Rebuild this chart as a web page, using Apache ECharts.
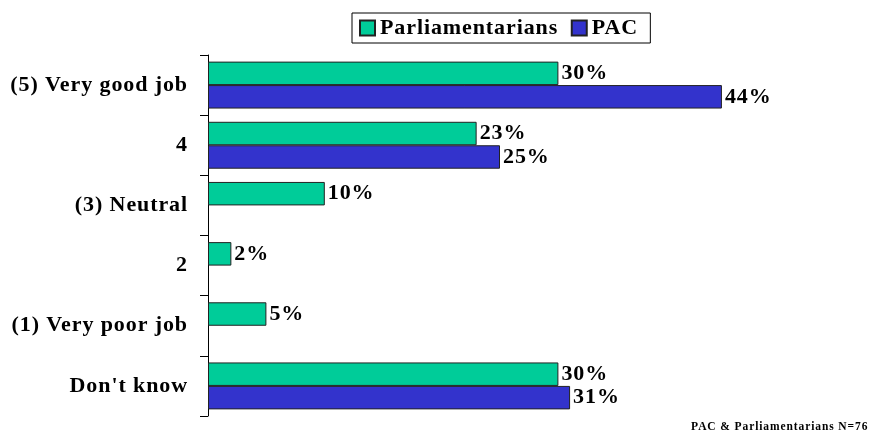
<!DOCTYPE html>
<html>
<head>
<meta charset="utf-8">
<script src="https://cdn.jsdelivr.net/npm/echarts@6/dist/echarts.min.js"></script>
<style>
  html, body { margin: 0; padding: 0; background: #fff; }
  #main { width: 872px; height: 444px; }
</style>
</head>
<body>
<div id="main"></div>
<script>
const categories = ['(5) Very good job', '4', '(3) Neutral', '2', '(1) Very poor job', "Don't know"];
const parliamentarians = [30, 23, 10, 2, 5, 30];
const pac = [44, 25, '-', '-', '-', 31];
const seriesNames = ['Parliamentarians', 'PAC'];
const footnote = 'PAC & Parliamentarians N=76';

const serif = "'Liberation Serif', 'Times New Roman', serif";
const chart = echarts.init(document.getElementById('main'));

const barLabel = {
    show: true,
    position: 'right',
    distance: 3,
    formatter: '{c}%',
    color: '#000',
    fontFamily: serif,
    fontWeight: 'bold',
    fontSize: 22
};

const option = {
    animation: false,
    backgroundColor: '#fff',
    legend: {
        data: seriesNames,
        left: 352,
        top: 13,
        padding: [4, 15, 4, 7],
        itemGap: 27,
        itemWidth: 15,
        itemHeight: 15,
        borderColor: '#000',
        borderWidth: 1,
        icon: 'rect',
        textStyle: { color: '#000', fontFamily: serif, fontWeight: 'bold', fontSize: 22 }
    },
    grid: { left: 208, right: 80, top: 55, bottom: 28, containLabel: false },
    xAxis: {
        type: 'value',
        min: 0,
        max: 50,
        show: false
    },
    yAxis: {
        type: 'category',
        inverse: true,
        data: categories,
        axisLine: { show: true, lineStyle: { color: '#000', width: 1 } },
        axisTick: { show: true, length: 8, lineStyle: { color: '#000', width: 1 } },
        axisLabel: {
            margin: 20,
            interval: 0,
            color: '#000',
            fontFamily: serif,
            fontWeight: 'bold',
            fontSize: 22
        }
    },
    series: [
        {
            name: seriesNames[0],
            type: 'bar',
            data: parliamentarians,
            barGap: '0%',
            barCategoryGap: '22%',
            itemStyle: { color: '#00CC99', borderColor: '#222', borderWidth: 1 },
            label: barLabel
        },
        {
            name: seriesNames[1],
            type: 'bar',
            data: pac,
            barGap: '0%',
            barCategoryGap: '22%',
            itemStyle: { color: '#3333CC', borderColor: '#222', borderWidth: 1 },
            label: barLabel
        }
    ],
    graphic: [{
        type: 'text',
        right: 28,  // leaves room for the extra tracking
        top: 421,
        style: {
            text: footnote,
            fill: '#000',
            font: "bold 11.5px 'Liberation Serif', 'Times New Roman', serif"
        }
    }]
};

chart.setOption(option);

// the original deck uses loosely tracked bold serif text:
// set tracking on the canvas context, then draw again
const cv = chart.getDom().querySelector('canvas');
if (cv) cv.getContext('2d').letterSpacing = '0.9px';
chart.setOption(option, true);
</script>
</body>
</html>
